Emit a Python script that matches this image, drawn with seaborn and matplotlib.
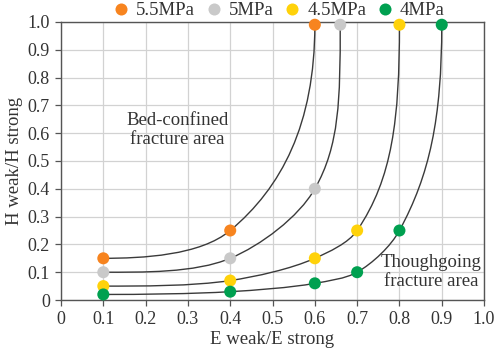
import numpy as np
import pandas as pd
import matplotlib
matplotlib.use("Agg")
import matplotlib.pyplot as plt
from matplotlib.path import Path
from matplotlib.patches import PathPatch
import seaborn as sns

# pressure series
pressures = ["5.5MPa", "5MPa", "4.5MPa", "4MPa"]
e_ratio = {
    "5.5MPa": [0.1, 0.4, 0.6],
    "5MPa": [0.1, 0.4, 0.6, 0.66],
    "4.5MPa": [0.1, 0.4, 0.6, 0.7, 0.8],
    "4MPa": [0.1, 0.4, 0.6, 0.7, 0.8, 0.9],
}
h_ratio = {
    "5.5MPa": [0.15, 0.25, 0.99],
    "5MPa": [0.10, 0.15, 0.40, 0.99],
    "4.5MPa": [0.05, 0.07, 0.15, 0.25, 0.99],
    "4MPa": [0.02, 0.03, 0.06, 0.10, 0.25, 0.99],
}
colors = ["#F7841F", "#C9C9C9", "#FFD20A", "#00A050"]
tick_vals = [0, 0.1, 0.2, 0.3, 0.4, 0.5, 0.6, 0.7, 0.8, 0.9, 1.0]
tick_text = ["0", "0.1", "0.2", "0.3", "0.4", "0.5", "0.6", "0.7", "0.8", "0.9", "1.0"]

rows = []
for p in pressures:
    for x, y in zip(e_ratio[p], h_ratio[p]):
        rows.append({"E": x, "H": y, "P": p})
df = pd.DataFrame(rows)

sns.set_style("whitegrid")
plt.rcParams["font.family"] = ["Liberation Serif", "DejaVu Serif"]

fig = plt.figure(figsize=(4.98, 3.54), dpi=100)
ax = fig.add_axes([0.1225, 0.1525, 0.8495, 0.7855])

ASP = 278 / 423  # y stretch so the smoothing works in screen-like space


def smooth_path(xs, ys):
    pts = np.column_stack([xs, np.array(ys) * ASP])
    n = len(pts)
    tang = []
    for i in range(n):
        if i == 0:
            d = np.array([1.0, 0.0])
        elif i == n - 1:
            d = np.array([0.0, 1.0])
        else:
            a = pts[i] - pts[i - 1]
            b = pts[i + 1] - pts[i]
            d = a / np.linalg.norm(a) + b / np.linalg.norm(b)
            d = d / np.linalg.norm(d)
        tang.append(d)
    verts = [pts[0]]
    codes = [Path.MOVETO]
    for i in range(n - 1):
        L = np.linalg.norm(pts[i + 1] - pts[i])
        k_out = 0.3
        k_in = 0.45 if i + 1 == n - 1 else 0.3
        c1 = pts[i] + tang[i] * L * k_out
        c2 = pts[i + 1] - tang[i + 1] * L * k_in
        verts += [c1, c2, pts[i + 1]]
        codes += [Path.CURVE4] * 3
    verts = np.array(verts)
    verts[:, 1] = verts[:, 1] / ASP
    return Path(verts, codes)


for p in pressures:
    patch = PathPatch(smooth_path(e_ratio[p], h_ratio[p]), facecolor="none",
                      edgecolor="#3a3a3a", lw=1.0, zorder=3)
    ax.add_patch(patch)

sns.scatterplot(data=df, x="E", y="H", hue="P", hue_order=pressures,
                palette=colors, s=75, edgecolor="none", zorder=4,
                clip_on=False, ax=ax)

ax.set_xlim(0, 1.0)
ax.set_ylim(0, 1.0)
ax.set_xticks(tick_vals)
ax.set_xticklabels(tick_text)
ax.set_yticks(tick_vals)
ax.set_yticklabels(tick_text)
ax.tick_params(axis="both", which="major", labelsize=13, length=4,
               width=0.9, color="#555555", direction="out", pad=4,
               labelcolor="#333333")
ax.tick_params(axis="y", left=True)
ax.tick_params(axis="x", bottom=True)
ax.grid(True, color="#d2d2d2", lw=0.9)
for s in ax.spines.values():
    s.set_color("#555555")
    s.set_linewidth(1.0)

ax.set_xlabel("E weak/E strong", fontsize=13.5, color="#333333", labelpad=2)
ax.set_ylabel("H weak/H strong", fontsize=13.5, color="#333333", labelpad=3)

ax.text(0.275, 0.61, "Bed-confined\nfracture area", ha="center", va="center",
        fontsize=13.5, color="#333333", linespacing=1.15)
ax.text(0.875, 0.10, "Thoughgoing\nfracture area", ha="center", va="center",
        fontsize=13.5, color="#333333", linespacing=1.15)

handles, labels = ax.get_legend_handles_labels()
ax.get_legend().remove()
fig.legend(handles, labels, loc="center", bbox_to_anchor=(0.555, 0.97),
           ncol=4, frameon=False, fontsize=13.5, handletextpad=0.1,
           columnspacing=0.3, handlelength=1.4, labelcolor="#333333")

fig.savefig("out.png", dpi=100)
